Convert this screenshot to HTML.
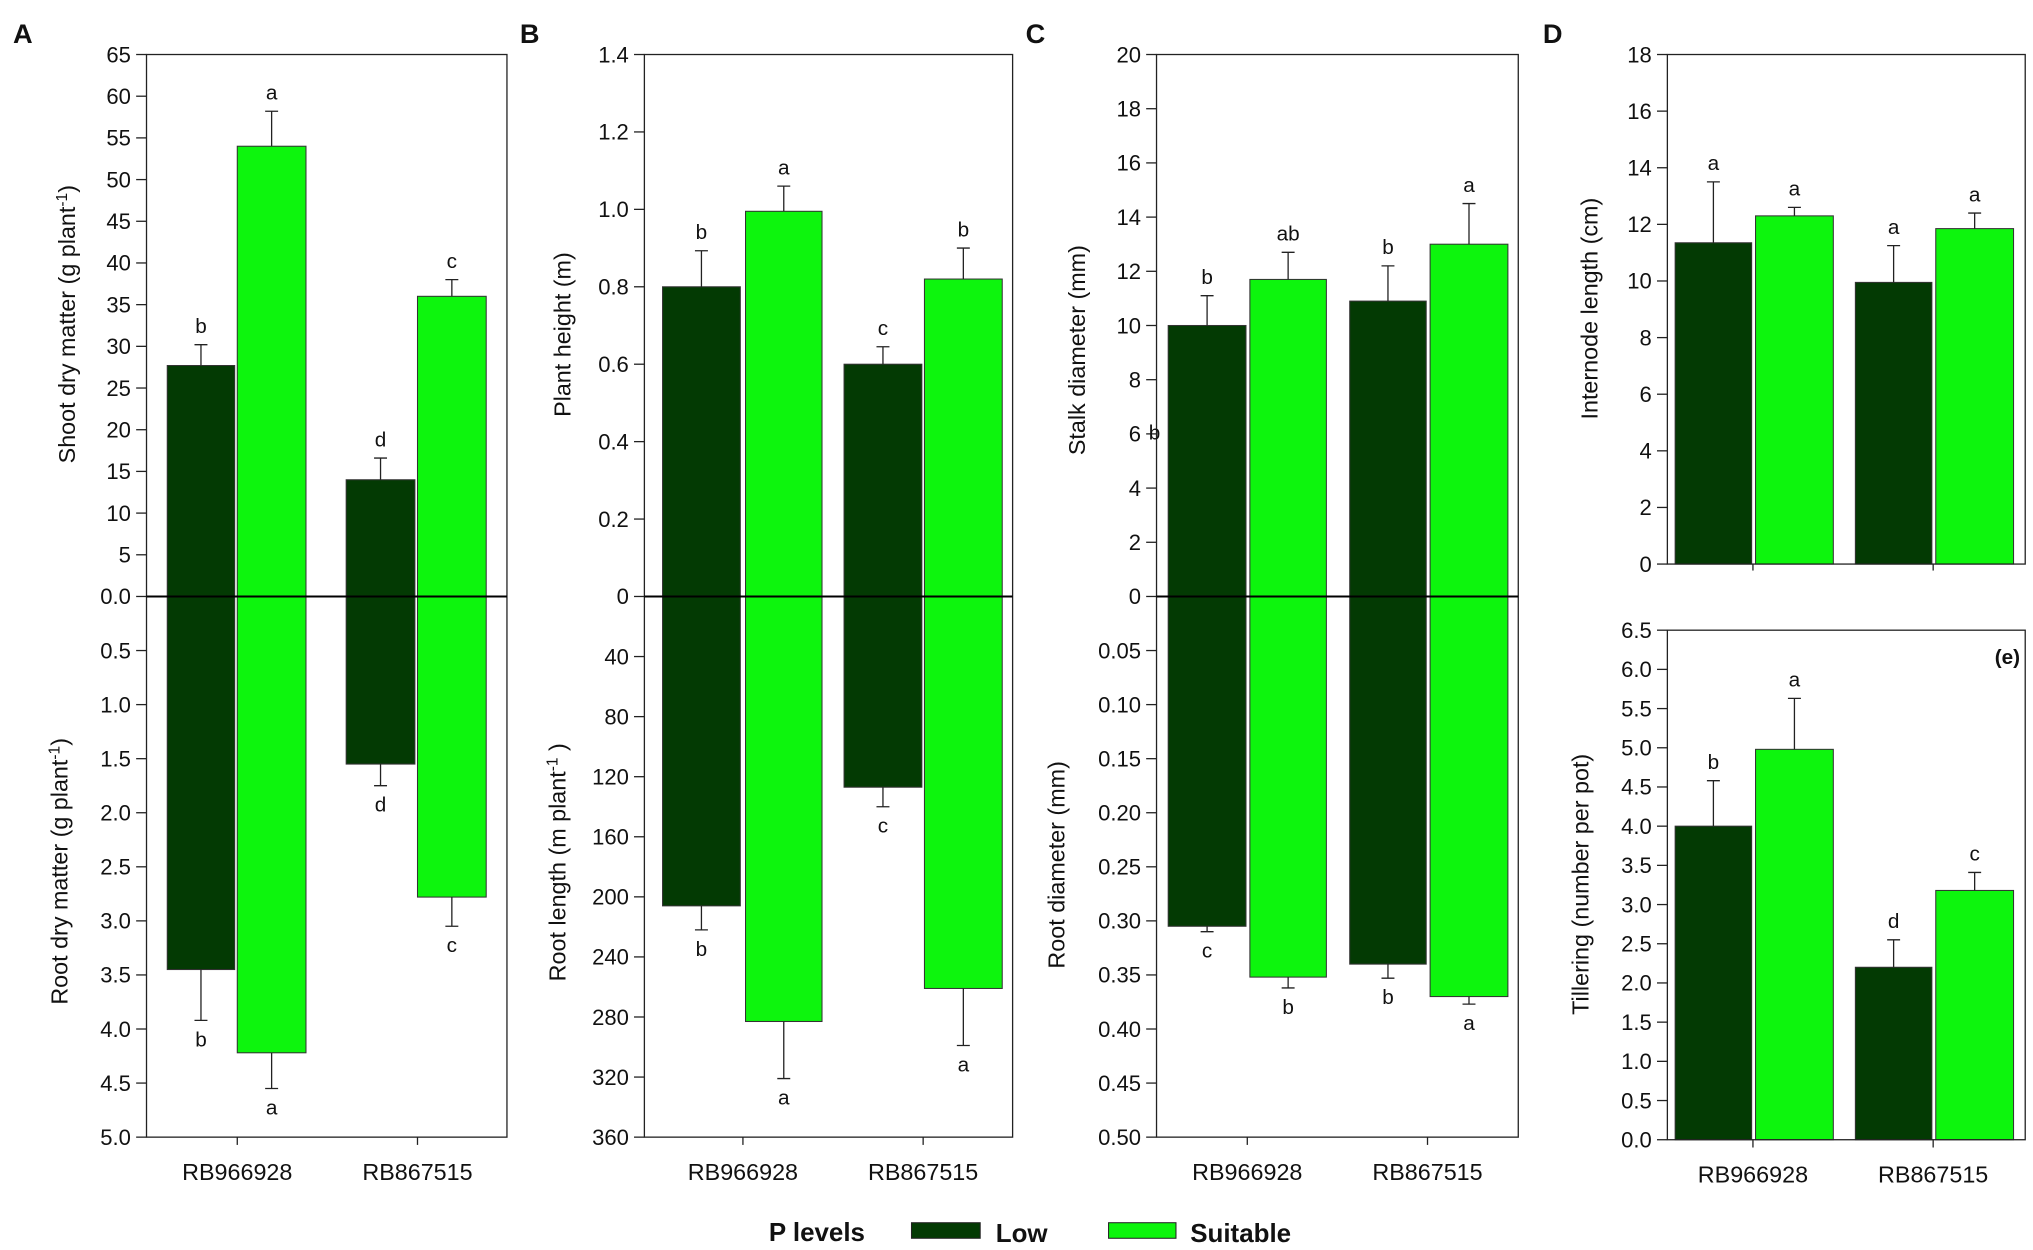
<!DOCTYPE html>
<html><head><meta charset="utf-8"><style>
html,body{margin:0;padding:0;background:#fff;}
svg{display:block;font-family:"Liberation Sans",Arial,sans-serif;}
</style></head><body>
<svg id="fig" width="2033" height="1250" viewBox="0 0 1568 964" xmlns="http://www.w3.org/2000/svg">
<rect width="1568" height="964" fill="#fff"/>
<g id="root"></g>
</svg>
<script>
const categories = ["RB966928", "RB867515"];
// Panel A
const aUpLow = [27.7, 14.0], aUpSuit = [54.0, 36.0], aUpLowErr = [30.2, 16.6], aUpSuitErr = [58.2, 38.0];
const aUpLowLet = ["b","d"], aUpSuitLet = ["a","c"];
const aDnLow = [3.45, 1.55], aDnSuit = [4.22, 2.78], aDnLowErr = [3.92, 1.75], aDnSuitErr = [4.55, 3.05];
const aDnLowLet = ["b","d"], aDnSuitLet = ["a","c"];
const aUpTicks = ["0.0","5","10","15","20","25","30","35","40","45","50","55","60","65"];
const aDnTicks = ["0.5","1.0","1.5","2.0","2.5","3.0","3.5","4.0","4.5","5.0"];
// Panel B
const bUpLow = [0.80, 0.60], bUpSuit = [0.995, 0.82], bUpLowErr = [0.893, 0.645], bUpSuitErr = [1.06, 0.90];
const bUpLowLet = ["b","c"], bUpSuitLet = ["a","b"];
const bDnLow = [206, 127], bDnSuit = [283, 261], bDnLowErr = [222, 140], bDnSuitErr = [321, 299];
const bDnLowLet = ["b","c"], bDnSuitLet = ["a","a"];
const bUpTicks = ["0","0.2","0.4","0.6","0.8","1.0","1.2","1.4"];
const bDnTicks = ["40","80","120","160","200","240","280","320","360"];
// Panel C
const cUpLow = [10.0, 10.9], cUpSuit = [11.7, 13.0], cUpLowErr = [11.1, 12.2], cUpSuitErr = [12.7, 14.5];
const cUpLowLet = ["b","b"], cUpSuitLet = ["ab","a"];
const cDnLow = [0.305, 0.340], cDnSuit = [0.352, 0.370], cDnLowErr = [0.310, 0.353], cDnSuitErr = [0.362, 0.377];
const cDnLowLet = ["c","b"], cDnSuitLet = ["b","a"];
const cUpTicks = ["0","2","4","6","8","10","12","14","16","18","20"];
const cDnTicks = ["0.05","0.10","0.15","0.20","0.25","0.30","0.35","0.40","0.45","0.50"];
// Panel D
const dLow = [11.35, 9.95], dSuit = [12.3, 11.85], dLowErr = [13.5, 11.25], dSuitErr = [12.6, 12.4];
const dLowLet = ["a","a"], dSuitLet = ["a","a"];
const dTicks = ["0","2","4","6","8","10","12","14","16","18"];
// Panel E
const eLow = [4.0, 2.2], eSuit = [4.98, 3.18], eLowErr = [4.58, 2.55], eSuitErr = [5.63, 3.41];
const eLowLet = ["b","d"], eSuitLet = ["a","c"];
const eTicks = ["0.0","0.5","1.0","1.5","2.0","2.5","3.0","3.5","4.0","4.5","5.0","5.5","6.0","6.5"];

const NS = "http://www.w3.org/2000/svg";
const root = document.getElementById("root");
const DARK = "#033a03", LIGHT = "#0df50d";
function mk(tag, attrs, parent, text){
  const e = document.createElementNS(NS, tag);
  for (const k in attrs) e.setAttribute(k, attrs[k]);
  if (text !== undefined) e.textContent = text;
  (parent || root).appendChild(e);
  return e;
}

function drawBars(id, yScale, lows, suits, lowErr, suitErr, lowLet, suitLet, bars, down){
  const g = mk("g", {});
  
  
  const series = [[lows, lowErr, lowLet, DARK, 0], [suits, suitErr, suitLet, LIGHT, 1]];
  series.forEach(s => {
    s[0].forEach((v, i) => {
      const b = bars[i*2 + s[4]];
      const y0 = yScale(0), y1 = yScale(v);
      const r = mk("rect", {x: b[0], y: Math.min(y0,y1), width: b[1]-b[0], height: Math.abs(y1-y0), fill: s[3], stroke: "#333", "stroke-width": 0.8}, g);
      
      
      const cx = (b[0]+b[1])/2, ye = yScale(s[1][i]);
      const el = mk("path", {d: `M${cx},${y1}L${cx},${ye}M${cx-5},${ye}L${cx+5},${ye}`, stroke: "#222", "stroke-width": 1, fill: "none"}, g);
      
      
      const ty = down ? ye + 20 : ye - 9;
      const t = mk("text", {x: cx, y: ty, "font-size": 16, "text-anchor": "middle", fill: "#111"}, g, s[2][i]);
      
      
    });
  });
}
function drawTicks(id, yScale, labels, vals, x0){
  labels.forEach((lab, i) => {
    const y = yScale(vals[i]);
    const tk = mk("line", {x1: x0-8, x2: x0, y1: y, y2: y, stroke: "#222", "stroke-width": 1});
    
    
    const t = mk("text", {x: x0-12, y: y+6, "font-size": 17, "text-anchor": "end", fill: "#111"}, root, lab);
    
    
  });
}
function ylabel(id, x, y, main, sup, tail){
  const t = mk("text", {x: x, y: y, "font-size": 18, "text-anchor": "middle", transform: `rotate(-90 ${x} ${y})`, fill: "#111"}, root, main);
  if (sup !== undefined){
    mk("tspan", {"baseline-shift": "super", "font-size": 12}, t, sup);
    mk("tspan", {}, t, tail);
  }
  
  
}
function frame(id, x0, x1, yT, yB){
  const r = mk("rect", {x: x0, y: yT, width: x1-x0, height: yB-yT, fill: "none", stroke: "#222", "stroke-width": 1});
  
  
}
function xlabels(id, centers, yAxis, yText){
  centers.forEach((c, i) => {
    const tk = mk("line", {x1: c, x2: c, y1: yAxis, y2: yAxis+6, stroke: "#222"});
    
    
    const t = mk("text", {x: c, y: yText, "font-size": 18, "text-anchor": "middle", fill: "#111"}, root, categories[i]);
    
    
  });
}
function numVals(labels){ return labels.map(Number); }

function splitPanel(p){
  const up = v => p.yZero - (v / p.upMax) * (p.yZero - p.yTop);
  const dn = v => p.yZero + (v / p.dnMax) * (p.yBot - p.yZero);
  drawBars(p.id + '-upper', up, p.uL, p.uS, p.uLE, p.uSE, p.uLL, p.uSL, p.bars, false);
  drawBars(p.id + '-lower', dn, p.dL, p.dS, p.dLE, p.dSE, p.dLL, p.dSL, p.bars, true);
  frame(p.id, p.x0, p.x1, p.yTop, p.yBot);
  const z = mk("line", {x1: p.x0, x2: p.x1, y1: p.yZero, y2: p.yZero, stroke: "#000", "stroke-width": 1.6});
  
  
  drawTicks(p.id + '-upper', up, p.uTicks, numVals(p.uTicks), p.x0);
  drawTicks(p.id + '-lower', dn, p.dTicks, numVals(p.dTicks), p.x0);
  xlabels(p.id, p.centers, p.yBot, 910);
}

splitPanel({id:'panel-a', x0:113, x1:391, yTop:42, yZero:460, yBot:877, upMax:65, dnMax:5,
  bars:[[129,181],[183,236],[267,320],[322,375]], centers:[183,322],
  uL:aUpLow,uS:aUpSuit,uLE:aUpLowErr,uSE:aUpSuitErr,uLL:aUpLowLet,uSL:aUpSuitLet,
  dL:aDnLow,dS:aDnSuit,dLE:aDnLowErr,dSE:aDnSuitErr,dLL:aDnLowLet,dSL:aDnSuitLet,
  uTicks:aUpTicks,dTicks:aDnTicks});
splitPanel({id:'panel-b', x0:497, x1:781, yTop:42, yZero:460, yBot:877, upMax:1.4, dnMax:360,
  bars:[[511,571],[575,634],[651,711],[713,773]], centers:[573,712],
  uL:bUpLow,uS:bUpSuit,uLE:bUpLowErr,uSE:bUpSuitErr,uLL:bUpLowLet,uSL:bUpSuitLet,
  dL:bDnLow,dS:bDnSuit,dLE:bDnLowErr,dSE:bDnSuitErr,dLL:bDnLowLet,dSL:bDnSuitLet,
  uTicks:bUpTicks,dTicks:bDnTicks});
splitPanel({id:'panel-c', x0:892, x1:1171, yTop:42, yZero:460, yBot:877, upMax:20, dnMax:0.5,
  bars:[[901,961],[964,1023],[1041,1100],[1103,1163]], centers:[962,1101],
  uL:cUpLow,uS:cUpSuit,uLE:cUpLowErr,uSE:cUpSuitErr,uLL:cUpLowLet,uSL:cUpSuitLet,
  dL:cDnLow,dS:cDnSuit,dLE:cDnLowErr,dSE:cDnSuitErr,dLL:cDnLowLet,dSL:cDnSuitLet,
  uTicks:cUpTicks,dTicks:cDnTicks});

(function(){
  const x0=1286, x1=1562, yT=42, yB=435;
  const ys = v => yB - v/18*(yB-yT);
  const bars=[[1292,1351],[1354,1414],[1431,1490],[1493,1553]];
  drawBars('panel-d', ys, dLow, dSuit, dLowErr, dSuitErr, dLowLet, dSuitLet, bars, false);
  frame('panel-d', x0, x1, yT, yB);
  drawTicks('panel-d', ys, dTicks, numVals(dTicks), x0);
  [1352,1491].forEach(c => { const l = mk("line",{x1:c,x2:c,y1:yB,y2:yB+5,stroke:"#222"});   });
})();
(function(){
  const x0=1286, x1=1562, yT=486, yB=879;
  const ys = v => yB - v/6.5*(yB-yT);
  const bars=[[1292,1351],[1354,1414],[1431,1490],[1493,1553]];
  drawBars('panel-e', ys, eLow, eSuit, eLowErr, eSuitErr, eLowLet, eSuitLet, bars, false);
  frame('panel-e', x0, x1, yT, yB);
  drawTicks('panel-e', ys, eTicks, numVals(eTicks), x0);
  xlabels('panel-e', [1352,1491], yB, 912);
  const t = mk("text",{x:1558,y:512,"font-size":16,"font-weight":"bold","text-anchor":"end",fill:"#111"},root,"(e)");
  
  
})();

ylabel('panel-a-upper-y-title', 58, 250, "Shoot dry matter (g plant", "-1", ")");
ylabel('panel-a-lower-y-title', 52, 672, "Root dry matter (g plant", "-1", ")");
ylabel('panel-b-upper-y-title', 440, 258, "Plant height (m)");
ylabel('panel-b-lower-y-title', 436, 665, "Root length (m plant", "-1", " )");
ylabel('panel-c-upper-y-title', 837, 270, "Stalk diameter (mm)");
ylabel('panel-c-lower-y-title', 821, 667, "Root diameter (mm)");
ylabel('panel-d-y-title', 1232, 238, "Internode length (cm)");
ylabel('panel-e-y-title', 1225, 682, "Tillering (number per pot)");
{ const t = mk("text",{x:886,y:339,"font-size":16,fill:"#111"},root,"b");   }

[["A",10],["B",401],["C",791],["D",1190]].forEach(p => {
  const t = mk("text",{x:p[1],y:33,"font-size":21,"font-weight":"bold",fill:"#111"},root,p[0]);
  
  
});

{
  const g = mk("g",{});
  
  
  const t0 = mk("text",{x:593,y:957,"font-size":20,"font-weight":"bold",fill:"#111"},g,"P levels");
  
  
  const r1 = mk("rect",{x:703,y:943,width:53,height:12,fill:DARK,stroke:"#222","stroke-width":0.8},g);
  
  
  const t1 = mk("text",{x:768,y:958,"font-size":20,"font-weight":"bold",fill:"#111"},g,"Low");
  
  
  const r2 = mk("rect",{x:855,y:943,width:52,height:12,fill:LIGHT,stroke:"#222","stroke-width":0.8},g);
  
  
  const t2 = mk("text",{x:918,y:958,"font-size":20,"font-weight":"bold",fill:"#111"},g,"Suitable");
  
  
}
</script>
</body></html>
